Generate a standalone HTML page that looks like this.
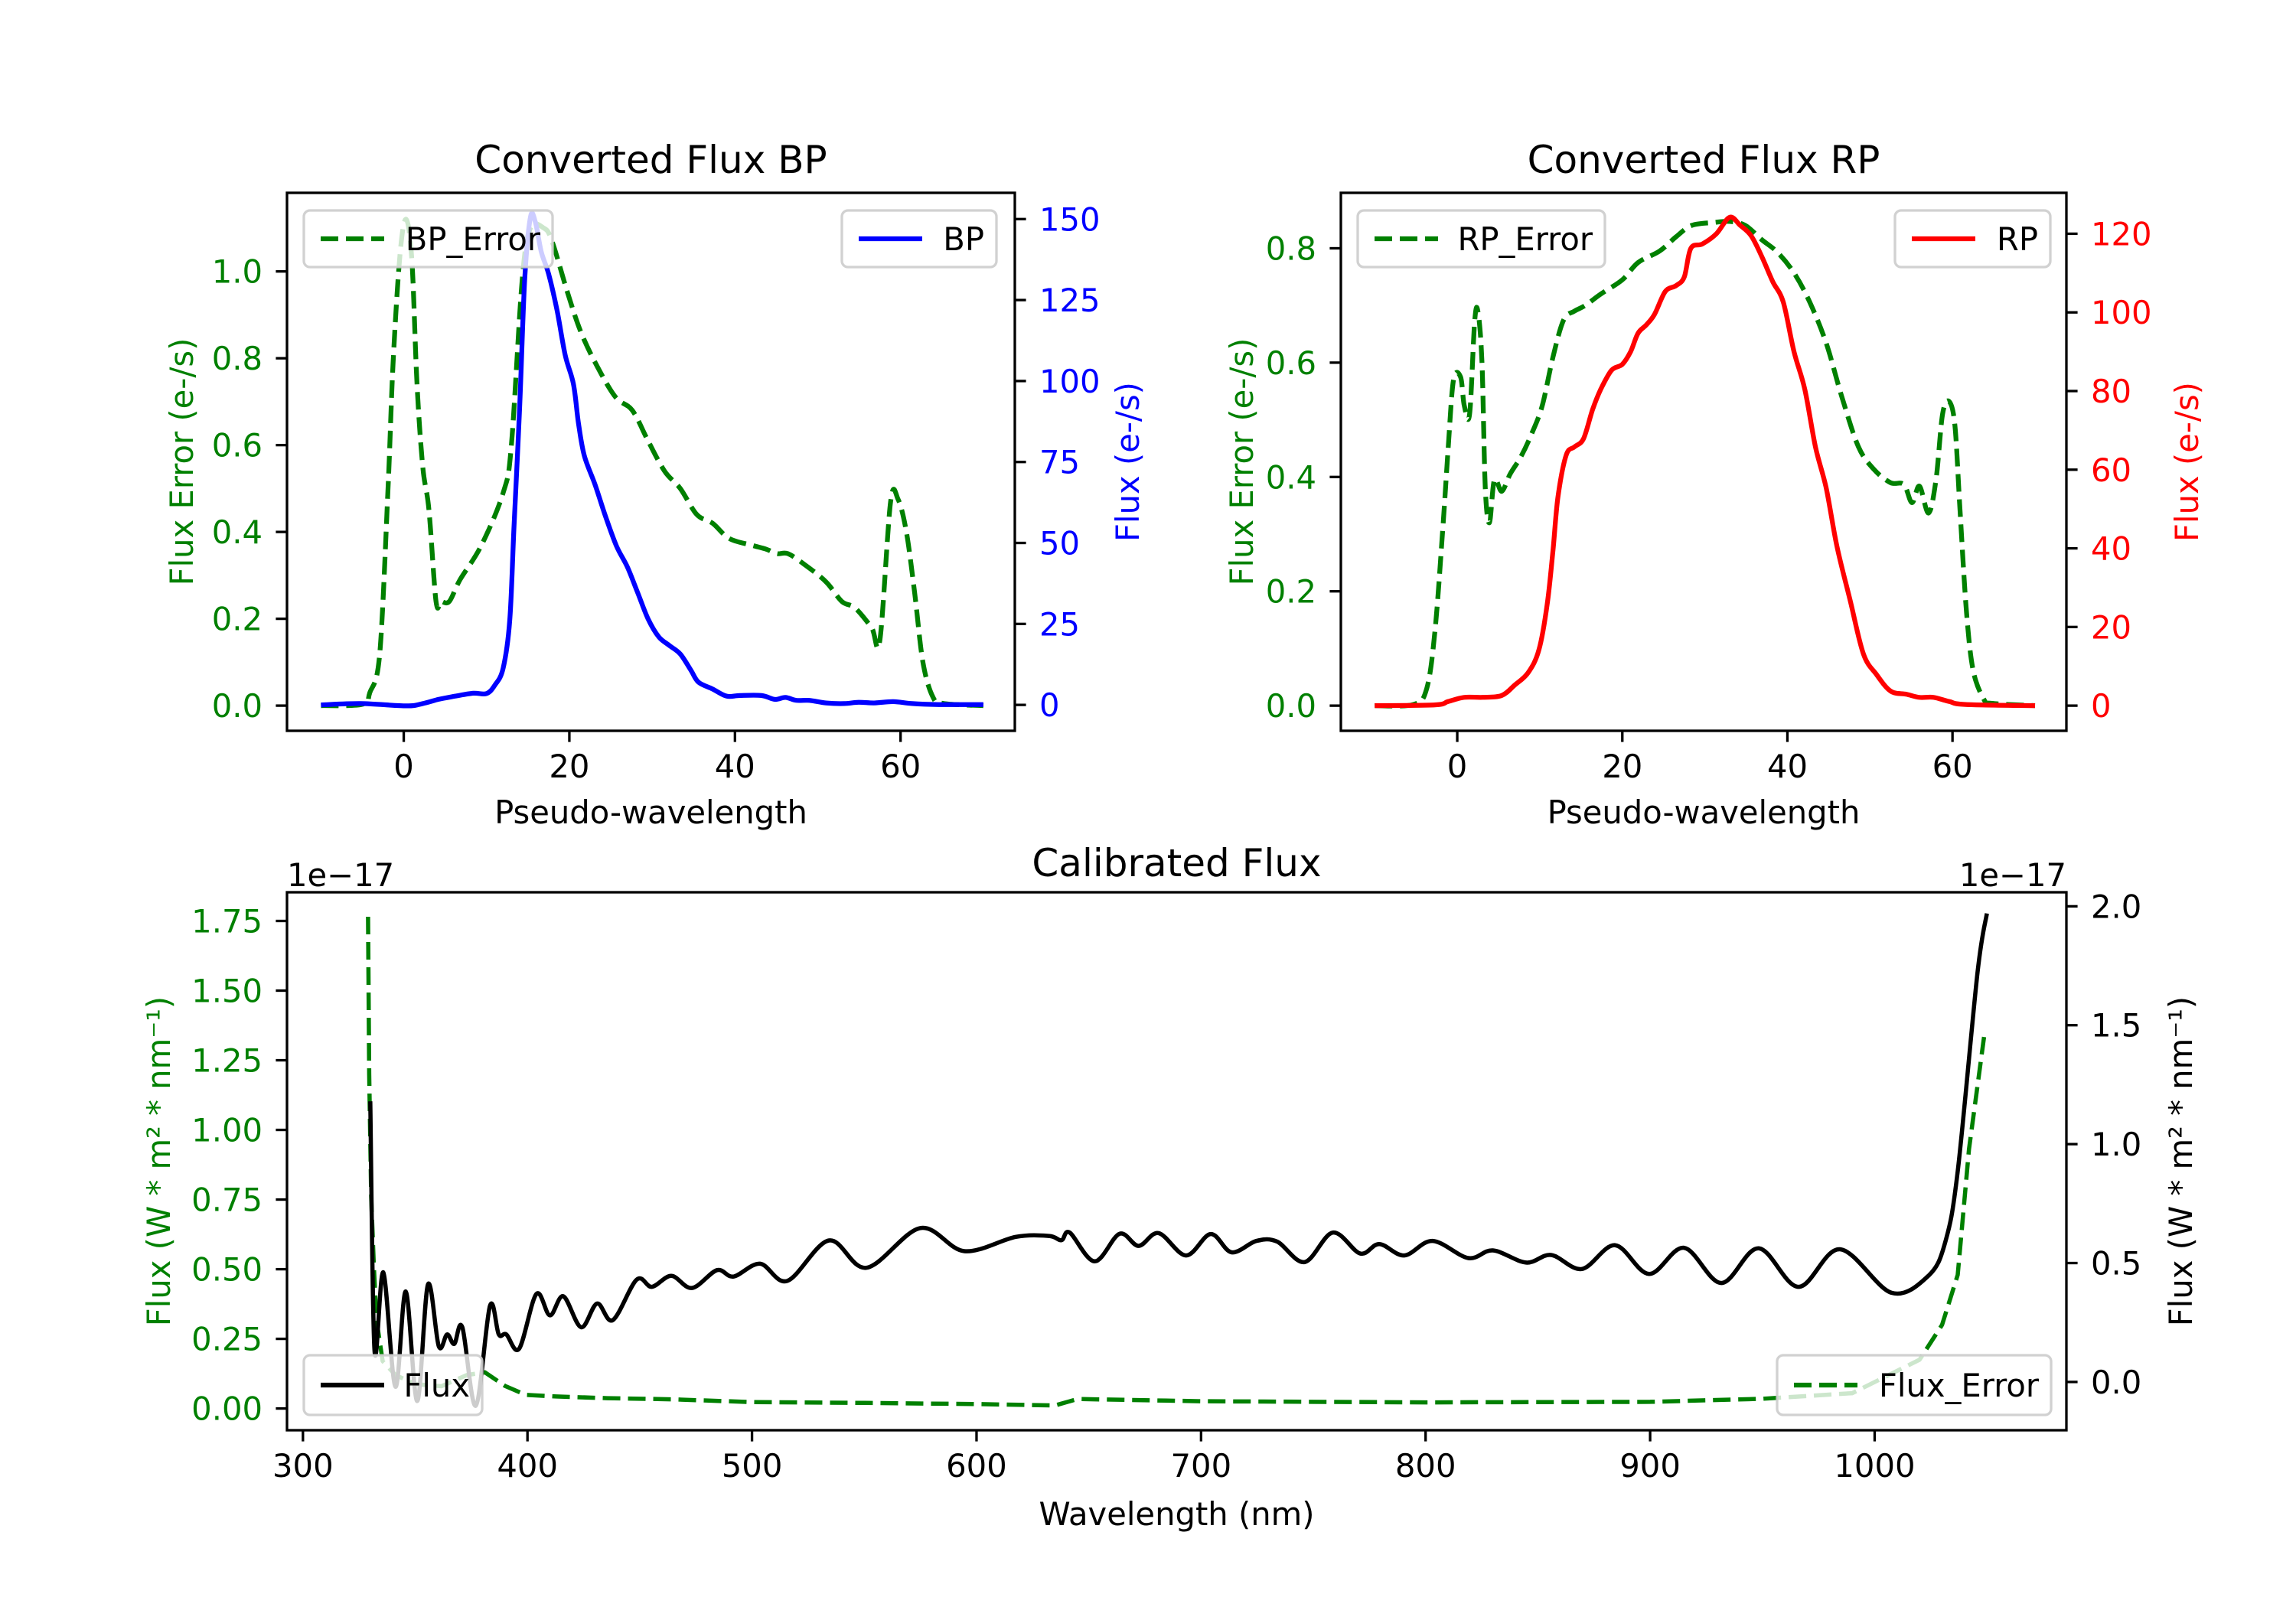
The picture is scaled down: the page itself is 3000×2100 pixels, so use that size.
<!DOCTYPE html>
<html><head><meta charset="utf-8"><style>
html,body{margin:0;padding:0;background:#fff}
svg{display:block;font-family:"DejaVu Sans","Liberation Sans",sans-serif}
</style></head><body>
<svg id="fig" xmlns="http://www.w3.org/2000/svg" width="3000" height="2100" viewBox="0 0 3000 2100"></svg>
<script>
// ---- BP panel data ----
const bpErrX=[-10,-5,-4.1,-2.9,-1.9,-1.3,-0.45,0.3,1.0,1.6,2.3,3.05,3.9,4.5,5.5,6.8,9.4,12,13,14.3,15.3,16.9,17.9,19.8,21.4,23.4,25.6,27.6,29.5,31.5,33.4,35.4,37.3,39.3,41.9,43.8,45.1,46.4,48.4,51,52.9,54.5,56.5,57.5,58.8,59.7,60.7,61.7,62.7,63.9,65.2,70];
const bpErrY=[0,0.003,0.03,0.12,0.5,0.785,1.04,1.12,1.02,0.74,0.55,0.45,0.24,0.24,0.24,0.29,0.37,0.49,0.6,0.98,1.1,1.1,1.07,0.95,0.86,0.78,0.71,0.68,0.61,0.54,0.5,0.44,0.42,0.385,0.37,0.36,0.35,0.35,0.325,0.285,0.24,0.225,0.18,0.15,0.47,0.475,0.4,0.26,0.1,0.02,0.005,0];
const bpX=[-10,-5.2,0.3,2.3,4.2,6.2,8.4,10,11,12,12.8,13.3,14,14.6,15.3,15.9,16.6,17.5,18.5,19.5,20.5,21.1,21.8,23.1,24.4,25.7,27,28.2,29.5,30.8,32.1,33.4,34.7,35.6,37.3,39,40.6,43.2,44.8,46.1,47.4,49,51,53.2,54.9,56.8,59.1,61.4,64.6,70];
const bpY=[0,0.4,-0.3,0.4,1.7,2.7,3.6,3.5,6.1,11.3,26,54,92,131,150.6,149,140,133,122,108,99,87,77,68,58,49,42.6,35,26.6,21,18.3,15.7,10.6,7,4.9,2.7,2.9,2.9,1.7,2.3,1.4,1.4,0.6,0.4,0.8,0.6,1.0,0.4,0.1,0.1];
// ---- RP panel data ----
const rpErrX=[-10,-5.3,-3.7,-2.7,-1.75,-1.1,-0.45,0.4,0.85,1.5,2.1,2.5,3,3.4,3.9,4.5,5.4,6.4,7.7,9,10.3,11.6,12.9,14.2,15.5,17.4,20,21.9,24.5,26.5,28.4,31,33,34.9,36.9,38.8,40.8,42.7,44.7,46.6,48.6,50.5,52.5,54.1,55.1,56,57.1,58,58.8,59.6,60.3,60.9,61.7,62.5,63.8,64.8,70];
const rpErrY=[0,0.002,0.03,0.13,0.31,0.45,0.57,0.575,0.525,0.51,0.67,0.69,0.6,0.38,0.32,0.395,0.375,0.405,0.435,0.475,0.525,0.61,0.675,0.69,0.7,0.72,0.745,0.775,0.795,0.82,0.84,0.845,0.847,0.84,0.815,0.793,0.757,0.706,0.634,0.54,0.453,0.413,0.39,0.387,0.355,0.384,0.337,0.395,0.51,0.532,0.489,0.344,0.163,0.062,0.011,0.004,0];
const rpX=[-10,-2.7,-1.1,0.85,3.1,5.4,7,8.6,9.9,10.9,11.6,12.2,13.2,14.2,15.3,16.4,17.4,18.7,20,21,21.9,22.9,23.9,25.2,26.5,27.5,28.3,29.7,31.4,33,34.3,35.6,36.9,38.2,39.5,40.8,42.1,43.4,44.7,46,47.6,49.2,50.8,52.5,54.4,56,57.7,59.6,61.6,70];
const rpY=[0,0.2,1.05,2.1,2.1,2.6,5.3,8.4,14.2,25.8,39.5,53,63.7,65.8,67.9,75.3,80.5,85.3,86.8,90,94.7,96.8,99.5,105.3,106.8,109,116.3,117.4,120,124.2,122.1,119.5,114.2,107.9,102.6,90,80.5,65.8,55.3,40.5,26.8,13.2,7.9,3.7,2.9,2.1,2.1,1.05,0.3,0];
// ---- Calibrated flux data (units of 1e-17) ----
const calX=[330,331.9,335.8,341.2,345.8,350.9,355.7,360.5,364.2,367.4,371,377,383.3,387.2,390.6,396.3,404,410,416,423.9,431,438,448.6,455.4,464.1,473.3,484.4,491.8,503.6,515.8,534.3,551,575,594.6,617.5,632.3,637.8,641.5,652.6,663.7,672.2,681.1,693.3,704.3,713.6,724.7,733.9,746.1,758.7,770.9,779.4,790.5,803.1,819,830,844.8,855.9,869.6,884.4,899.5,915.1,931.7,948.3,966.1,984.5,1007.5,1024.1,1031.5,1037,1045.8,1050];
const calY=[1.18,0.13,0.46,-0.02,0.38,-0.08,0.41,0.15,0.2,0.16,0.23,-0.1,0.32,0.2,0.2,0.14,0.37,0.28,0.36,0.23,0.33,0.26,0.43,0.40,0.446,0.395,0.47,0.443,0.497,0.425,0.595,0.48,0.647,0.55,0.61,0.614,0.596,0.628,0.507,0.623,0.572,0.626,0.532,0.622,0.545,0.593,0.59,0.504,0.628,0.54,0.58,0.532,0.593,0.521,0.553,0.502,0.534,0.475,0.575,0.454,0.564,0.416,0.562,0.40,0.558,0.375,0.448,0.59,0.886,1.72,1.97];
const calErrX=[329,329.5,330.4,331.6,332.7,335.5,341.2,350.3,361.7,373,381,390,399.2,412.8,435.5,463.9,500,550,600,635,645,700,800,900,950,990,1020,1030,1037,1042,1049];
const calErrY=[1.765,1.2,0.76,0.51,0.32,0.17,0.12,0.087,0.08,0.12,0.13,0.081,0.049,0.043,0.037,0.033,0.023,0.02,0.016,0.011,0.034,0.026,0.022,0.024,0.035,0.055,0.175,0.3,0.48,0.93,1.35];
// ---- tick labels ----
const bpXTicks=[0,20,40,60];
const bpLTicks=[0,0.2,0.4,0.6,0.8,1.0];
const bpRTicks=[0,25,50,75,100,125,150];
const rpLTicks=[0,0.2,0.4,0.6,0.8];
const rpRTicks=[0,20,40,60,80,100,120];
const calXTicks=[300,400,500,600,700,800,900,1000];
const calLTicks=[0,0.25,0.5,0.75,1.0,1.25,1.5,1.75];
const calRTicks=[0,0.5,1.0,1.5,2.0];

const NS='http://www.w3.org/2000/svg';
const svg=document.getElementById('fig');
function mk(tag,attrs,parent){const e=document.createElementNS(NS,tag);for(const k in attrs)e.setAttribute(k,attrs[k]);(parent||svg).appendChild(e);return e;}
function lin(d0,d1,r0,r1){return v=>r0+(v-d0)*(r1-r0)/(d1-d0);}
function pathD(xs,ys,sx,sy,smooth){
  const p=xs.map((x,i)=>[sx(x),sy(ys[i])]);
  let d='M'+p[0][0].toFixed(1)+','+p[0][1].toFixed(1);
  for(let i=1;i<p.length;i++){
    if(!smooth){d+='L'+p[i][0].toFixed(1)+','+p[i][1].toFixed(1);continue;}
    const p0=p[Math.max(0,i-2)],p1=p[i-1],p2=p[i],p3=p[Math.min(p.length-1,i+1)];
    const c1x=p1[0]+(p2[0]-p0[0])/6,c1y=p1[1]+(p2[1]-p0[1])/6;
    const c2x=p2[0]-(p3[0]-p1[0])/6,c2y=p2[1]-(p3[1]-p1[1])/6;
    d+='C'+c1x.toFixed(1)+','+c1y.toFixed(1)+' '+c2x.toFixed(1)+','+c2y.toFixed(1)+' '+p2[0].toFixed(1)+','+p2[1].toFixed(1);
  }
  return d;
}
function fmt(v,dec){return v.toFixed(dec);}
function txt(s,x,y,attrs,parent){const t=mk('text',Object.assign({x:x,y:y,'font-size':41.7},attrs),parent);t.textContent=s;return t;}

function panel(cfg){
  const g=mk('g',{});
  
  
  const {L,R,T,B}=cfg;
  const sx=lin(cfg.xd[0],cfg.xd[1],L,R);
  const syl=lin(cfg.yl[0],cfg.yl[1],B,T);
  const syr=lin(cfg.yr[0],cfg.yr[1],B,T);
  const clipId='c'+cfg.name;
  const cp=mk('clipPath',{id:clipId},g);mk('rect',{x:L,y:T,width:R-L,height:B-T},cp);
  cfg.series.forEach(s=>{
    const sy=s.axis==='l'?syl:syr;
    const p=mk('path',{d:pathD(s.x,s.y,sx,sy,s.smooth),fill:'none',stroke:s.color,'stroke-width':s.w||6.25,'stroke-dasharray':s.dash?'23 10':'none','stroke-linejoin':'round','clip-path':'url(#'+clipId+')'},g);
    
    
  });
  const sp=mk('rect',{x:L,y:T,width:R-L,height:B-T,fill:'none',stroke:'#000','stroke-width':3.3},g);
  
  
  cfg.xt.forEach(v=>{const x=sx(v);mk('line',{x1:x,y1:B,x2:x,y2:B+14.6,stroke:'#000','stroke-width':3.3},g);
    const t=txt(String(v),x,B+29+32,{'text-anchor':'middle',fill:'#000'},g);
    
    });
  cfg.ylt.forEach(v=>{const y=syl(v);mk('line',{x1:L,y1:y,x2:L-14.6,y2:y,stroke:'#000','stroke-width':3.3},g);
    const t=txt(fmt(v,cfg.yld),L-32,y+15,{'text-anchor':'end',fill:cfg.lcol},g);
    
    });
  cfg.yrt.forEach(v=>{const y=syr(v);mk('line',{x1:R,y1:y,x2:R+14.6,y2:y,stroke:'#000','stroke-width':3.3},g);
    const t=txt(fmt(v,cfg.yrd),R+32,y+15,{'text-anchor':'start',fill:cfg.rcol},g);
    
    });
  const tt=txt(cfg.title,(L+R)/2,cfg.titleY,{'text-anchor':'middle','font-size':50,fill:'#000'},g);
  
  
  const xl=txt(cfg.xlabel,(L+R)/2,cfg.xlabY,{'text-anchor':'middle',fill:'#000'},g);
  
  
  const cy=(T+B)/2;
  const yl=txt(cfg.ylabL,cfg.ylx,cy,{'text-anchor':'middle',fill:cfg.lcol,transform:'rotate(-90 '+cfg.ylx+' '+cy+')'},g);
  
  
  const yr=txt(cfg.ylabR,cfg.yrx,cy,{'text-anchor':'middle',fill:cfg.rcol,transform:'rotate(-90 '+cfg.yrx+' '+cy+')'},g);
  
  
  cfg.legends.forEach(lg=>{
    const lgg=mk('g',{},g);
    
    
    mk('rect',{x:lg.x,y:lg.y,width:lg.w,height:lg.h,rx:8,fill:'rgba(255,255,255,0.8)',stroke:'rgba(204,204,204,0.9)','stroke-width':3.3},lgg);
    const my=lg.y+lg.h/2;
    mk('line',{x1:lg.x+22,y1:my,x2:lg.x+105,y2:my,stroke:lg.color,'stroke-width':6.25,'stroke-dasharray':lg.dash?'23 10':'none'},lgg);
    txt(lg.label,lg.x+lg.w-16,my+15,{'text-anchor':'end',fill:'#000'},lgg);
  });
  return g;
}

panel({name:'bp-panel',L:375,R:1326,T:252,B:955,xd:[-14.1,73.8],yl:[-0.058,1.181],yr:[-8.0,158.1],
  series:[{name:'bp-error-line',x:bpErrX,y:bpErrY,axis:'l',color:'#008000',dash:true,smooth:true},{name:'bp-flux-line',x:bpX,y:bpY,axis:'r',color:'#0000ff',smooth:true}],
  xt:bpXTicks,ylt:bpLTicks,yld:1,yrt:bpRTicks,yrd:0,lcol:'#008000',rcol:'#0000ff',
  title:'Converted Flux BP',titleY:226,xlabel:'Pseudo-wavelength',xlabY:1076,ylabL:'Flux Error (e-/s)',ylx:252,ylabR:'Flux (e-/s)',yrx:1488,
  legends:[{x:397,y:275,w:325,h:74,color:'#008000',dash:true,label:'BP_Error'},{x:1100,y:275,w:202,h:74,color:'#0000ff',label:'BP'}]});
panel({name:'rp-panel',L:1752,R:2700,T:252,B:955,xd:[-14.1,73.8],yl:[-0.044,0.897],yr:[-6.4,130.4],
  series:[{name:'rp-error-line',x:rpErrX,y:rpErrY,axis:'l',color:'#008000',dash:true,smooth:true},{name:'rp-flux-line',x:rpX,y:rpY,axis:'r',color:'#ff0000',smooth:true}],
  xt:bpXTicks,ylt:rpLTicks,yld:1,yrt:rpRTicks,yrd:0,lcol:'#008000',rcol:'#ff0000',
  title:'Converted Flux RP',titleY:226,xlabel:'Pseudo-wavelength',xlabY:1076,ylabL:'Flux Error (e-/s)',ylx:1637,ylabR:'Flux (e-/s)',yrx:2872,
  legends:[{x:1774,y:275,w:323,h:74,color:'#008000',dash:true,label:'RP_Error'},{x:2476,y:275,w:203,h:74,color:'#ff0000',label:'RP'}]});
panel({name:'calibrated-panel',L:375,R:2700,T:1166,B:1869,xd:[292.9,1085.4],yl:[-0.078,1.853],yr:[-0.203,2.059],
  series:[{name:'flux-error-line',x:calErrX,y:calErrY,axis:'l',color:'#008000',dash:true,w:5.5},{name:'flux-line',x:calX,y:calY,axis:'r',color:'#000000',smooth:true,w:5.5}],
  xt:calXTicks,ylt:calLTicks,yld:2,yrt:calRTicks,yrd:1,lcol:'#008000',rcol:'#000000',
  title:'Calibrated Flux',titleY:1145,xlabel:'Wavelength (nm)',xlabY:1993,ylabL:'Flux (W * m² * nm⁻¹)',ylx:222,ylabR:'Flux (W * m² * nm⁻¹)',yrx:2864,
  legends:[{x:397,y:1771,w:233,h:78,color:'#000000',label:'Flux'},{x:2322,y:1771,w:358,h:78,color:'#008000',dash:true,label:'Flux_Error'}]});
const o1=txt('1e−17',375,1158,{'text-anchor':'start',fill:'#000'});


const o2=txt('1e−17',2700,1158,{'text-anchor':'end',fill:'#000'});


</script>
</body></html>
